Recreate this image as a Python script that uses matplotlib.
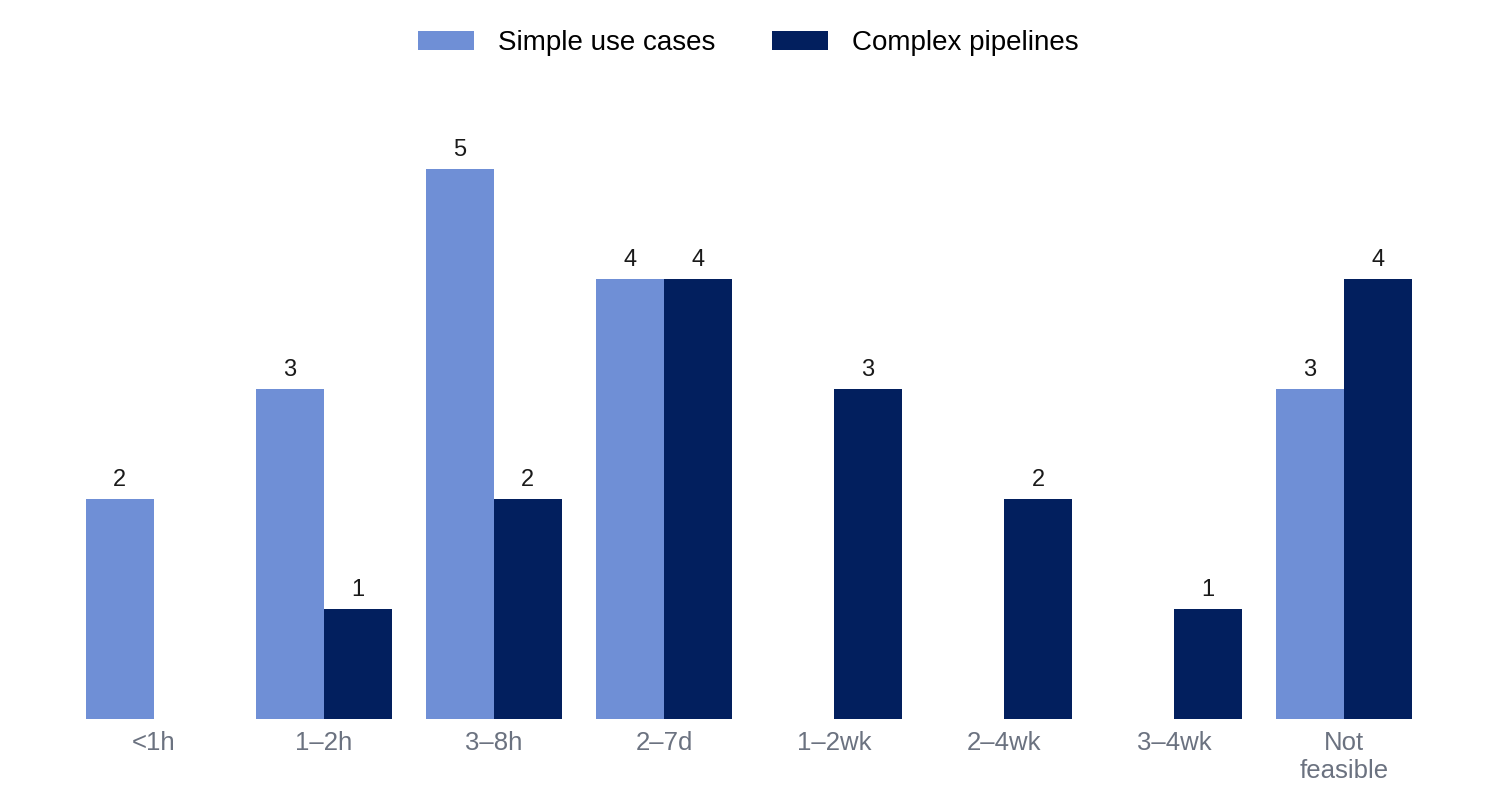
import matplotlib
matplotlib.use('Agg')
import matplotlib.pyplot as plt
import numpy as np

plt.rcParams['font.family'] = ['Liberation Sans', 'DejaVu Sans']

categories = ['<1h', '1–2h', '3–8h', '2–7d', '1–2wk', '2–4wk', '3–4wk', 'Not\nfeasible']
simple = [2, 3, 5, 4, 0, 0, 0, 3]
complex_ = [0, 1, 2, 4, 3, 2, 1, 4]

light = '#6f8fd6'
dark = '#021f5e'

fig = plt.figure(figsize=(14.97, 8.02), dpi=100)
ax = fig.add_axes([0.046, 0.1035, 0.9086, 0.7545])

x = np.arange(len(categories))
w = 0.4
b1 = ax.bar(x - w / 2, simple, w, color=light, label='Simple use cases')
b2 = ax.bar(x + w / 2, complex_, w, color=dark, label='Complex pipelines')

# value labels, skip empty bars
for bars, vals in [(b1, simple), (b2, complex_)]:
    for rect, v in zip(bars, vals):
        if v == 0:
            continue
        ax.annotate(str(v), (rect.get_x() + rect.get_width() / 2, v),
                    xytext=(0, 9), textcoords='offset points',
                    ha='center', va='baseline', fontsize=17, color='#1a1a1a')

ax.set_xlim(-0.5, len(categories) - 0.5)
ax.set_ylim(0, 5.5)
ax.set_xticks(x)
ax.set_xticklabels(categories, fontsize=18.5, color='#6b7280', linespacing=1.2)
ax.tick_params(axis='x', length=0, pad=9)
ax.set_yticks([])
for s in ax.spines.values():
    s.set_visible(False)

fig.legend(loc='center', bbox_to_anchor=(0.5, 0.946), ncol=2, frameon=False,
           fontsize=20, handlelength=2.0, handleheight=0.65, columnspacing=2.05,
           handletextpad=0.87)

fig.savefig('out.png', dpi=100)
